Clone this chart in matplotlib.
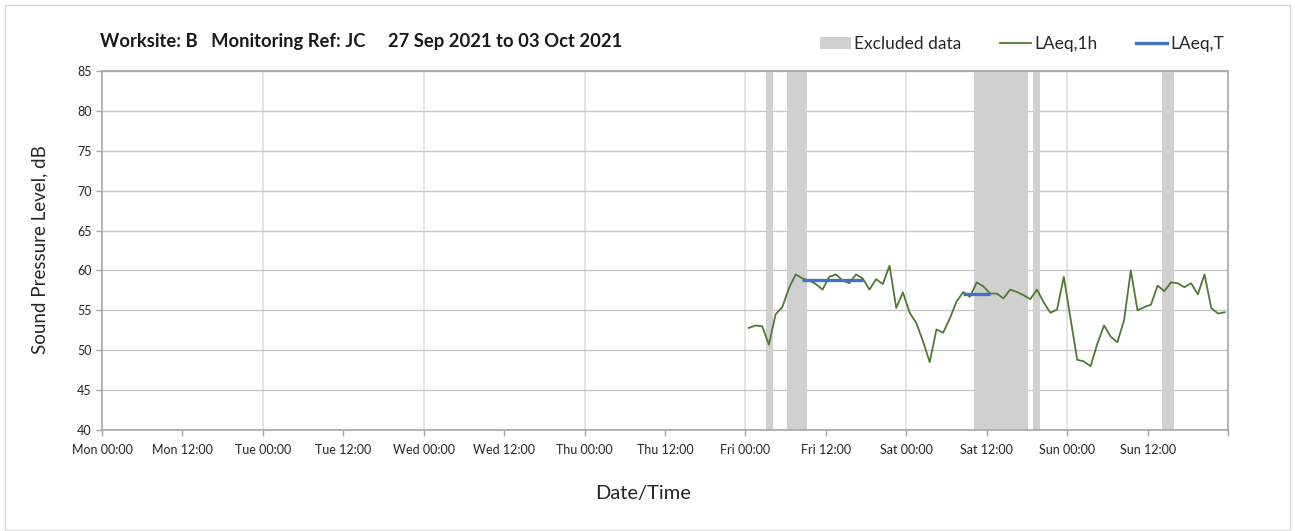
import matplotlib
matplotlib.use('Agg')
import matplotlib.pyplot as plt
from matplotlib.patches import Patch, Rectangle
from matplotlib.lines import Line2D

plt.rcParams['font.family'] = ['Lato', 'DejaVu Sans']

# Data: hours from Mon 00:00, hourly LAeq values
hours = [96.5 + i for i in range(72)]
laeq_1h = [52.8, 53.1, 53.0, 50.7, 54.5, 55.4, 57.8, 59.5, 59.0, 58.75,
           58.3, 57.6, 59.2, 59.5, 58.75, 58.4, 59.5, 59.0, 57.6, 58.9,
           58.3, 60.6, 55.3, 57.25, 54.7, 53.4, 51.1, 48.5, 52.6, 52.2,
           54.0, 56.1, 57.3, 56.7, 58.5, 58.0, 57.1, 57.1, 56.5, 57.6,
           57.3, 56.9, 56.4, 57.6, 56.0, 54.7, 55.1, 59.2, 54.0, 48.8,
           48.6, 48.0, 50.8, 53.1, 51.7, 51.0, 53.8, 60.0, 55.0, 55.4,
           55.7, 58.1, 57.4, 58.5, 58.4, 57.9, 58.4, 57.0, 59.5, 55.3,
           54.6, 54.75]

# LAeq,T periods: start hour, end hour, level
laeq_t_start = [104.5, 128.5]
laeq_t_end = [113.5, 132.5]
laeq_t_level = [58.8, 57.1]

# excluded data periods (hours)
excl_start = [99.1, 102.2, 130.1, 138.9, 158.1]
excl_end = [100.1, 105.2, 138.1, 140.0, 160.0]

tick_hours = list(range(0, 169, 12))
tick_labels = ['Mon 00:00', 'Mon 12:00', 'Tue 00:00', 'Tue 12:00', 'Wed 00:00',
               'Wed 12:00', 'Thu 00:00', 'Thu 12:00', 'Fri 00:00', 'Fri 12:00',
               'Sat 00:00', 'Sat 12:00', 'Sun 00:00', 'Sun 12:00', '']

fig = plt.figure(figsize=(12.95, 5.31), dpi=100)
ax = fig.add_axes([102 / 1295, 1 - 430 / 531, 1126 / 1295, 359 / 531])

# chart border
fig.patches.append(Rectangle((5 / 1295, 1 / 531), 1285 / 1295, 525 / 531,
                             transform=fig.transFigure, fill=False,
                             edgecolor='#d9d9d9', linewidth=1))

for s, e in zip(excl_start, excl_end):
    ax.axvspan(s, e, color='#d0d0d0', linewidth=0, zorder=1)

for d in range(24, 168, 24):
    ax.axvline(d, color='#e0e0e0', linewidth=1.2, zorder=0)

ax.plot(hours, laeq_1h, color='#4f7a33', linewidth=1.3, zorder=3)
ax.hlines(laeq_t_level, laeq_t_start, laeq_t_end, color='#4472c4',
          linewidth=2.4, zorder=4)

ax.set_xlim(0, 168)
ax.set_ylim(40, 85)
ax.set_yticks(range(40, 86, 5))
ax.set_xticks(tick_hours)
ax.set_xticklabels(tick_labels)
ax.yaxis.grid(True, color='#c8c8c8', linewidth=1)
ax.set_axisbelow(True)

for sp in ax.spines.values():
    sp.set_color('#a6a6a6')
    sp.set_linewidth(1.2)
ax.tick_params(axis='both', colors='#a6a6a6', length=4, width=1,
               labelcolor='#262626', labelsize=9)
ax.tick_params(axis='x', pad=6)

ax.set_xlabel('Date/Time', fontsize=14.5, color='#262626')
ax.xaxis.set_label_coords((643 - 102) / 1126, -(493 - 430) / 359)
ax.xaxis.label.set_va('center')
ax.set_ylabel('Sound Pressure Level, dB', fontsize=13.5, color='#262626')
ax.yaxis.set_label_coords(-(102 - 40) / 1126, (430 - 250) / 359)
ax.yaxis.label.set_va('center')

fig.text(100 / 1295, 1 - 42 / 531, 'Worksite: B   Monitoring Ref: JC     27 Sep 2021 to 03 Oct 2021',
         fontsize=13.2, fontweight='bold', va='center', ha='left', color='#1a1a1a')

handles = [Patch(facecolor='#d0d0d0', edgecolor='none'),
           Line2D([0], [0], color='#4f7a33', linewidth=1.3),
           Line2D([0], [0], color='#4472c4', linewidth=2.4)]
fig.legend(handles, ['Excluded data', 'LAeq,1h', 'LAeq,T'], ncol=3,
           loc='center right', bbox_to_anchor=(1240 / 1295, 1 - 44 / 531),
           frameon=False, fontsize=12.5, handlelength=1.8, handletextpad=0.2,
           columnspacing=2.2, labelcolor='#262626')

fig.savefig('out.png', dpi=100)
